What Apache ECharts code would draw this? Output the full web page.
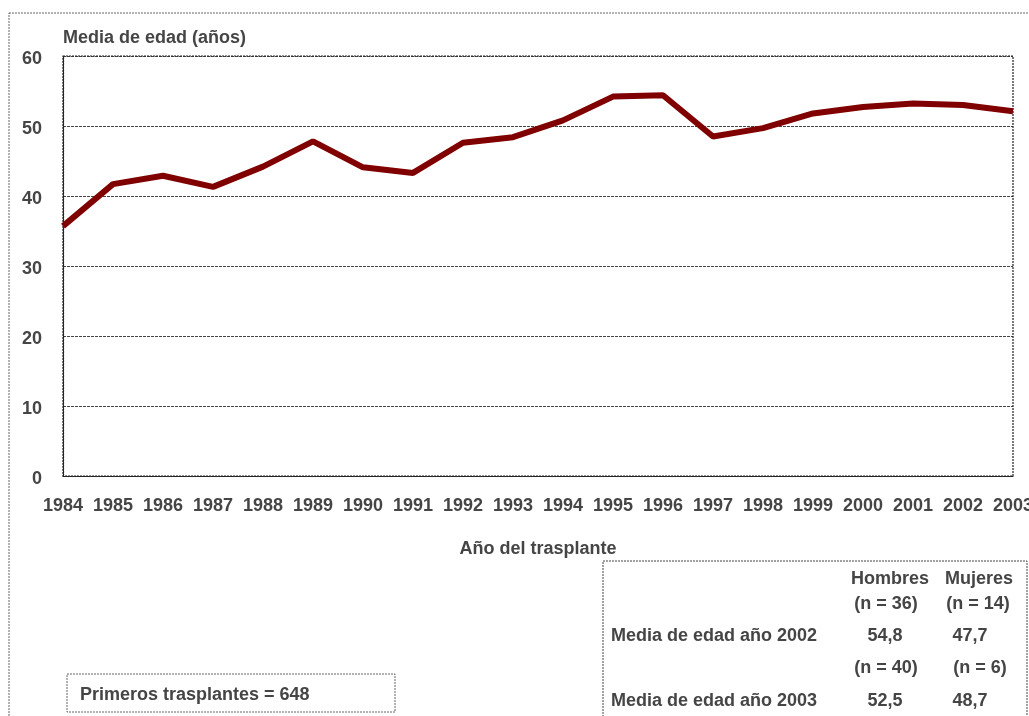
<!DOCTYPE html>
<html>
<head>
<meta charset="utf-8">
<script src="https://cdn.jsdelivr.net/npm/echarts@6/dist/echarts.min.js"></script>
<style>
  html, body { margin: 0; padding: 0; background: #fff; }
  #main { width: 1029px; height: 716px; }
</style>
</head>
<body>
<div id="main"></div>
<script>
// datos del gráfico
const years = ['1984','1985','1986','1987','1988','1989','1990','1991','1992','1993',
               '1994','1995','1996','1997','1998','1999','2000','2001','2002','2003'];
const mediaEdad = [35.7, 41.7, 42.9, 41.3, 44.2, 47.8, 44.1, 43.3, 47.6, 48.4,
                   50.8, 54.2, 54.4, 48.5, 49.7, 51.8, 52.7, 53.2, 53.0, 52.1];
const yTicks = [0, 10, 20, 30, 40, 50, 60];

// tabla por sexo
const colHeads = ['Hombres', 'Mujeres'];
const n2002 = ['(n = 36)', '(n = 14)'];
const media2002 = ['54,8', '47,7'];
const n2003 = ['(n = 40)', '(n = 6)'];
const media2003 = ['52,5', '48,7'];

const FONT = '"Liberation Sans Narrow", "Arial Narrow", "Liberation Sans", sans-serif';
const TXT = '#454545';

const chartDom = document.getElementById('main');
const myChart = echarts.init(chartDom);

function txt(x, y, s, align) {
  return {
    type: 'text', x: x, y: y,
    style: {
      text: s, fill: TXT, font: 'bold 18px ' + FONT,
      textAlign: align || 'left', textVerticalAlign: 'middle'
    }
  };
}

const graphics = [
  // marco exterior
  { type: 'rect', shape: { x: 9, y: 13, width: 1040, height: 720 },
    style: { fill: 'none', stroke: '#666', lineWidth: 1, lineDash: [2, 1] } },
  // marco del área de trazado (superior y derecho)
  { type: 'rect', shape: { x: 63, y: 56, width: 950, height: 420 },
    style: { fill: 'none', stroke: '#222', lineWidth: 1.2, lineDash: [2, 1] }, z: 1 },
  txt(63, 38, 'Media de edad (años)'),
  // caja de primeros trasplantes
  { type: 'rect', shape: { x: 67, y: 674, width: 328, height: 38 },
    style: { fill: 'none', stroke: '#666', lineWidth: 1, lineDash: [2, 1] } },
  txt(80, 695, 'Primeros trasplantes = 648'),
  // caja de la tabla
  { type: 'rect', shape: { x: 603, y: 561, width: 424, height: 170 },
    style: { fill: 'none', stroke: '#444', lineWidth: 1, lineDash: [2, 1] } },
  txt(890, 579, colHeads[0], 'center'),
  txt(979, 579, colHeads[1], 'center'),
  txt(886, 604, n2002[0], 'center'),
  txt(978, 604, n2002[1], 'center'),
  txt(611, 636, 'Media de edad año 2002'),
  txt(885, 636, media2002[0], 'center'),
  txt(970, 636, media2002[1], 'center'),
  txt(886, 668, n2003[0], 'center'),
  txt(980, 668, n2003[1], 'center'),
  txt(611, 701, 'Media de edad año 2003'),
  txt(885, 701, media2003[0], 'center'),
  txt(970, 701, media2003[1], 'center')
];

const option = {
  animation: false,
  backgroundColor: '#fff',
  grid: { left: 63, right: 16, top: 56, bottom: 240, containLabel: false, outerBoundsMode: 'none' },
  xAxis: {
    type: 'category',
    data: years,
    boundaryGap: false,
    name: 'Año del trasplante',
    nameLocation: 'middle',
    nameGap: 64,
    nameTextStyle: { color: TXT, fontFamily: FONT, fontWeight: 'bold', fontSize: 18 },
    axisLine: { lineStyle: { color: '#222', width: 1.2, type: [2, 1] } },
    axisTick: { show: false },
    axisLabel: { color: TXT, fontFamily: FONT, fontWeight: 'bold', fontSize: 18, margin: 21,
                 interval: 0, showMaxLabel: true, hideOverlap: false },
    splitLine: { show: false }
  },
  yAxis: {
    type: 'value',
    min: yTicks[0],
    max: yTicks[yTicks.length - 1],
    interval: 10,
    axisLine: { show: true, lineStyle: { color: '#222', width: 1.2, type: [2, 1] } },
    axisTick: { show: false },
    axisLabel: { color: TXT, fontFamily: FONT, fontWeight: 'bold', fontSize: 18, margin: 21,
                 verticalAlign: 'top', lineHeight: 18, padding: [-6, 0, 0, 0] },
    splitLine: { show: true, lineStyle: { color: '#444', width: 1, type: [3, 1] } }
  },
  series: [{
    type: 'line',
    data: mediaEdad,
    symbol: 'none',
    lineStyle: { color: '#800000', width: 6 },
    z: 3
  }],
  graphic: graphics
};

option && myChart.setOption(option);
</script>
</body>
</html>
